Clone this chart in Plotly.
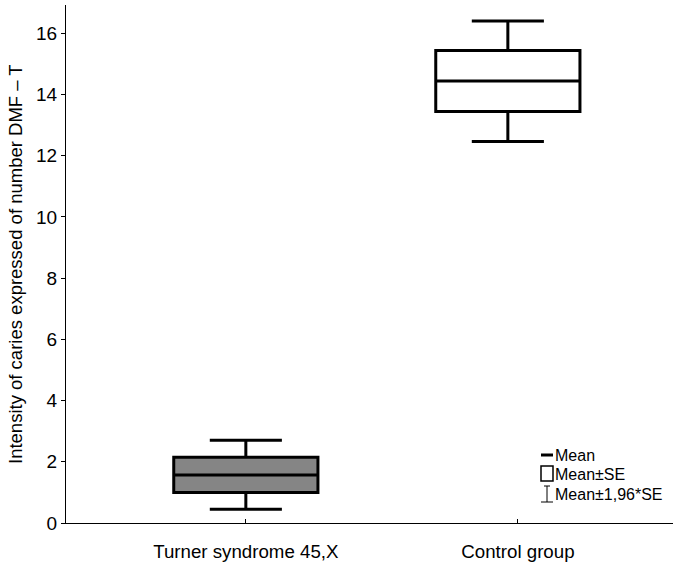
import plotly.graph_objects as go

# ---- data ----
categories = ["Turner syndrome 45,X", "Control group"]
means = [1.57, 14.44]
se_low = [1.00, 13.44]      # Mean - SE
se_high = [2.15, 15.43]     # Mean + SE
ci_low = [0.45, 12.46]      # Mean - 1.96*SE
ci_high = [2.70, 16.40]     # Mean + 1.96*SE
fill_colors = ["#858585", "#ffffff"]
y_ticks = [0, 2, 4, 6, 8, 10, 12, 14, 16]
legend_labels = ["Mean", "Mean±SE", "Mean±1,96*SE"]

# ---- layout constants ----
W, H = 678, 568
ML, MR, MT, MB = 66, 5, 5, 45
box_offset = [0.0, -0.037]
FONT = "Liberation Sans, Arial, sans-serif"

fig = go.Figure()
for i, cat in enumerate(categories):
    fig.add_trace(go.Box(
        x=[i + box_offset[i]],
        q1=[se_low[i]], median=[means[i]], q3=[se_high[i]],
        lowerfence=[ci_low[i]], upperfence=[ci_high[i]],
        width=0.53, whiskerwidth=0.5,
        fillcolor=fill_colors[i],
        line=dict(color="black", width=3),
        boxpoints=False, name=cat, showlegend=False,
    ))

pw, ph = W - ML - MR, H - MT - MB
def px(x):
    return (x - ML) / pw
def py(y):
    return (H - MB - y) / ph

shapes = [
    # Mean icon
    dict(type="line", xref="paper", yref="paper", x0=px(541), x1=px(553), y0=py(455), y1=py(455),
         line=dict(color="black", width=3)),
    # Mean±SE icon
    dict(type="rect", xref="paper", yref="paper", x0=px(541), x1=px(553), y0=py(481), y1=py(466),
         line=dict(color="black", width=1.5)),
    # Mean±1.96*SE icon
    dict(type="line", xref="paper", yref="paper", x0=px(547), x1=px(547), y0=py(486), y1=py(502),
         line=dict(color="black", width=1)),
    dict(type="line", xref="paper", yref="paper", x0=px(544), x1=px(550), y0=py(486), y1=py(486),
         line=dict(color="black", width=1)),
    dict(type="line", xref="paper", yref="paper", x0=px(541), x1=px(553), y0=py(502), y1=py(502),
         line=dict(color="black", width=1)),
]
annotations = []
for lab, yy in zip(legend_labels, [455, 474, 494]):
    annotations.append(dict(text=lab, xref="paper", yref="paper", x=px(553), y=py(yy),
                            xanchor="left", yanchor="middle", showarrow=False,
                            font=dict(family=FONT, size=16, color="black")))
annotations.append(dict(text="Intensity of caries expressed of number DMF – T", textangle=-90,
                        xref="paper", yref="paper", x=0, y=0.5, xshift=-(ML - 15),
                        xanchor="center", yanchor="middle", showarrow=False,
                        font=dict(family=FONT, size=18.5, color="black")))

fig.update_layout(
    width=W, height=H,
    margin=dict(l=ML, r=MR, t=MT, b=MB),
    paper_bgcolor="white", plot_bgcolor="white",
    font=dict(family=FONT, color="black"),
    showlegend=False,
    shapes=shapes, annotations=annotations,
    xaxis=dict(range=[-0.661, 1.570], tickvals=[0, 1], ticktext=categories,
               ticks="inside", ticklen=4, tickcolor="black", showgrid=False, zeroline=False,
               showline=True, linecolor="black", linewidth=1,
               tickfont=dict(family=FONT, size=18.7, color="black"),
               ticklabelstandoff=12, automargin=False),
    yaxis=dict(range=[0, 16.92], tickvals=y_ticks,
               ticks="outside", ticklen=4, tickcolor="black", showgrid=False, zeroline=False,
               showline=True, linecolor="black", linewidth=1,
               tickfont=dict(family=FONT, size=19, color="black"), automargin=False),
)

fig.write_html("out.html", config={"displayModeBar": False},
               post_script="document.body.style.margin='0';")
